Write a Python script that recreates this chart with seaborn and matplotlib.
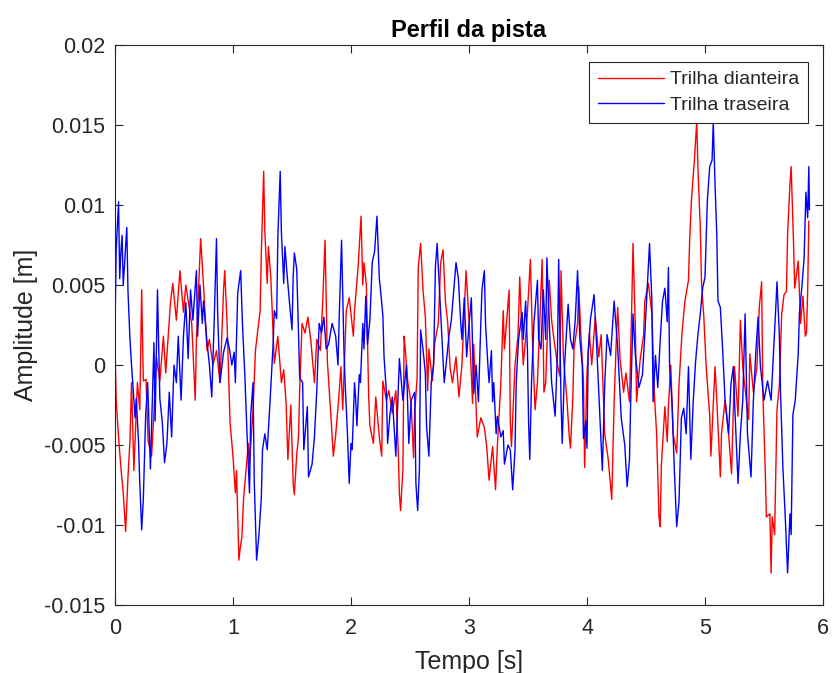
import matplotlib
matplotlib.use("Agg")
import matplotlib.pyplot as plt
import seaborn as sns
import pandas as pd

# ---------------- data (amplitudes in mm) ----------------
t_front = [0.0, 0.01, 0.03, 0.05, 0.07, 0.09, 0.11, 0.127, 0.14, 0.16, 0.19, 0.21, 0.226, 0.24, 0.263, 0.28,
           0.31, 0.33, 0.35, 0.38, 0.41, 0.43, 0.47, 0.49, 0.52, 0.55, 0.58, 0.60, 0.65, 0.68, 0.69, 0.726,
           0.75, 0.78, 0.80, 0.83, 0.86, 0.89, 0.92, 0.93, 0.95, 0.975, 1.00, 1.02, 1.03, 1.05, 1.06, 1.075,
           1.09, 1.13, 1.14, 1.17, 1.19, 1.23, 1.24, 1.26, 1.27, 1.29, 1.30, 1.32, 1.33, 1.35, 1.38, 1.41,
           1.43, 1.45, 1.465, 1.49, 1.51, 1.52, 1.54, 1.555, 1.565, 1.585, 1.61, 1.635, 1.66, 1.69, 1.71, 1.74,
           1.76, 1.78, 1.80, 1.83, 1.85, 1.87, 1.90, 1.915, 1.93, 1.96, 1.985, 2.02, 2.03, 2.06, 2.085, 2.10,
           2.11, 2.13, 2.15, 2.16, 2.19, 2.21, 2.24, 2.26, 2.27, 2.30, 2.32, 2.35, 2.38, 2.40, 2.41, 2.42,
           2.44, 2.45, 2.46, 2.48, 2.51, 2.53, 2.54, 2.56, 2.57, 2.59, 2.61, 2.63, 2.65, 2.66, 2.69, 2.71,
           2.74, 2.76, 2.78, 2.80, 2.82, 2.84, 2.86, 2.89, 2.915, 2.94, 2.975, 3.00, 3.03, 3.04, 3.07, 3.10,
           3.13, 3.15, 3.17, 3.20, 3.225, 3.24, 3.27, 3.29, 3.30, 3.34, 3.35, 3.36, 3.39, 3.415, 3.43, 3.45,
           3.46, 3.49, 3.52, 3.54, 3.56, 3.58, 3.60, 3.62, 3.635, 3.65, 3.68, 3.70, 3.72, 3.75, 3.77, 3.78,
           3.80, 3.83, 3.85, 3.86, 3.88, 3.89, 3.92, 3.93, 3.95, 3.97, 3.98, 4.00, 4.02, 4.04, 4.07, 4.10,
           4.12, 4.15, 4.18, 4.21, 4.23, 4.25, 4.26, 4.28, 4.31, 4.33, 4.36, 4.38, 4.39, 4.41, 4.42, 4.45,
           4.48, 4.49, 4.52, 4.55, 4.57, 4.59, 4.61, 4.62, 4.63, 4.66, 4.68, 4.69, 4.71, 4.73, 4.76, 4.78,
           4.805, 4.83, 4.86, 4.87, 4.885, 4.91, 4.93, 4.94, 4.96, 4.97, 4.99, 5.01, 5.04, 5.05, 5.085, 5.10,
           5.13, 5.14, 5.17, 5.20, 5.225, 5.25, 5.28, 5.30, 5.32, 5.35, 5.37, 5.38, 5.41, 5.44, 5.46, 5.48,
           5.49, 5.51, 5.52, 5.55, 5.56, 5.57, 5.59, 5.61, 5.63, 5.65, 5.67, 5.69, 5.70, 5.72, 5.73, 5.75,
           5.76, 5.79, 5.81, 5.83, 5.85, 5.86, 5.87, 5.88]
y_front = [1.1, -2.2, -4.5, -6.4, -8.0, -10.4, -7.0, -4.7, -1.1, -6.6, -1.1, -2.8, 4.7, -1.0, -0.9, -4.7,
           -5.7, -3.0, 0.5, -1.0, 1.8, -0.5, 3.9, 5.1, 2.8, 5.9, 3.3, 5.0, 2.6, -2.2, 1.6, 7.9,
           5.0, 0.9, 1.6, 0.0, 0.9, -1.1, 4.7, 5.9, 2.6, -3.6, -5.7, -8.0, -6.6, -12.2, -11.5, -10.8,
           -8.3, -4.9, -6.2, -2.8, 0.9, 3.4, 7.0, 12.1, 8.3, 5.1, 7.4, 5.5, 3.8, 0.1, 1.8, -1.1,
           -0.3, -2.4, -5.9, -2.5, -7.4, -8.1, -5.6, -4.5, -1.6, 2.6, 2.0, 3.0, 1.5, -1.1, 1.6, 0.9,
           3.9, 7.8, 0.2, -3.2, -5.7, -4.4, -1.7, -0.1, -2.8, 3.4, 4.2, 1.8, 3.4, 6.1, 9.3, 5.0,
           6.4, 5.0, -2.0, -3.8, -4.9, -2.0, -4.5, -5.7, -1.0, -2.2, -1.6, -3.0, -1.6, -5.3, -8.0, -9.1,
           -6.5, 1.8, 1.0, -1.0, -2.4, -5.8, -3.0, -0.8, 6.1, 7.6, 4.7, 3.0, -1.6, 1.0, -1.0, 1.4,
           2.6, 6.4, 7.2, 4.0, 2.6, -0.2, -1.1, 0.5, -2.0, 0.0, 5.9, 2.8, -2.4, 1.3, -4.5, -3.3,
           -3.9, -5.1, -7.2, -5.1, -7.8, -5.1, -1.1, 3.4, 1.0, 4.7, -3.6, -5.1, 0.0, 1.8, 5.5, 1.6,
           0.0, 2.6, 6.6, 1.0, -2.8, -1.1, 2.8, 6.6, -1.7, -1.1, 5.3, 2.8, 1.6, 0.0, -0.7, 5.9,
           0.5, -2.2, -4.5, -5.2, -2.0, 1.0, 2.6, 4.9, 1.6, -1.0, -6.4, -0.5, 2.0, 0.0, 3.0, 0.5,
           1.9, -4.3, -5.9, -8.4, -2.3, 1.9, 3.6, 0.4, -1.7, -0.5, -2.3, 4.0, 7.6, 2.2, -2.3, 0.3,
           1.9, 4.0, 5.1, 3.2, -1.7, -4.3, -9.5, -10.1, -6.3, -2.6, -4.8, -2.6, 0.0, -4.3, -5.5, -1.2,
           2.0, 4.0, 5.3, 7.8, 10.3, 12.8, 15.2, 12.3, 8.6, 5.2, 3.0, -0.1, -3.2, -5.7, -0.1, -2.2,
           -7.0, -4.3, -2.2, -4.3, -6.8, -0.1, -3.2, 2.8, -0.1, -2.2, -3.4, 0.7, -1.7, -0.1, 3.6, 5.2,
           -1.7, -6.4, -9.5, -9.3, -13.0, -9.5, -10.6, -2.8, -1.3, 3.2, 4.4, 4.6, 8.2, 11.3, 12.4, 7.7,
           4.8, 6.5, 2.6, 4.3, 1.8, 2.0, 4.6, 9.0]

t_rear = [0.0, 0.01, 0.03, 0.04, 0.05, 0.06, 0.07, 0.10, 0.11, 0.127, 0.14, 0.155, 0.17, 0.18, 0.20, 0.21,
          0.226, 0.24, 0.26, 0.277, 0.30, 0.32, 0.33, 0.34, 0.36, 0.38, 0.40, 0.42, 0.44, 0.46, 0.48, 0.50,
          0.52, 0.536, 0.56, 0.58, 0.60, 0.62, 0.64, 0.66, 0.69, 0.70, 0.72, 0.74, 0.75, 0.78, 0.80, 0.82,
          0.84, 0.86, 0.87, 0.89, 0.92, 0.95, 0.97, 0.99, 1.01, 1.02, 1.04, 1.065, 1.08, 1.10, 1.12, 1.14,
          1.15, 1.17, 1.18, 1.20, 1.22, 1.24, 1.25, 1.27, 1.29, 1.31, 1.34, 1.35, 1.37, 1.38, 1.40, 1.41,
          1.43, 1.44, 1.46, 1.48, 1.50, 1.51, 1.52, 1.54, 1.55, 1.565, 1.59, 1.60, 1.63, 1.64, 1.67, 1.69,
          1.71, 1.73, 1.75, 1.77, 1.79, 1.81, 1.84, 1.87, 1.89, 1.90, 1.92, 1.94, 1.95, 1.97, 1.985, 2.00,
          2.01, 2.03, 2.04, 2.05, 2.07, 2.08, 2.10, 2.11, 2.125, 2.14, 2.16, 2.18, 2.20, 2.22, 2.24, 2.25,
          2.27, 2.28, 2.30, 2.31, 2.33, 2.35, 2.38, 2.41, 2.44, 2.47, 2.49, 2.51, 2.54, 2.55, 2.565, 2.58,
          2.59, 2.61, 2.63, 2.64, 2.66, 2.68, 2.70, 2.715, 2.73, 2.75, 2.77, 2.79, 2.80, 2.83, 2.85, 2.875,
          2.89, 2.91, 2.93, 2.94, 2.96, 2.98, 3.00, 3.02, 3.04, 3.06, 3.08, 3.10, 3.11, 3.13, 3.14, 3.16,
          3.17, 3.19, 3.20, 3.21, 3.23, 3.24, 3.27, 3.29, 3.30, 3.33, 3.35, 3.36, 3.37, 3.39, 3.40, 3.42,
          3.45, 3.46, 3.48, 3.495, 3.505, 3.515, 3.53, 3.55, 3.58, 3.59, 3.61, 3.63, 3.65, 3.66, 3.68, 3.70,
          3.73, 3.75, 3.76, 3.78, 3.79, 3.81, 3.84, 3.86, 3.88, 3.90, 3.92, 3.94, 3.96, 3.97, 3.99, 4.00,
          4.01, 4.03, 4.06, 4.08, 4.11, 4.13, 4.15, 4.17, 4.20, 4.23, 4.26, 4.29, 4.32, 4.34, 4.36, 4.37,
          4.39, 4.41, 4.44, 4.47, 4.49, 4.52, 4.53, 4.55, 4.56, 4.58, 4.60, 4.62, 4.64, 4.66, 4.68, 4.69,
          4.70, 4.72, 4.74, 4.76, 4.78, 4.80, 4.82, 4.84, 4.86, 4.88, 4.90, 4.92, 4.94, 4.96, 4.98, 5.00,
          5.02, 5.04, 5.06, 5.07, 5.085, 5.10, 5.11, 5.13, 5.15, 5.17, 5.20, 5.22, 5.24, 5.25, 5.28, 5.30,
          5.32, 5.34, 5.36, 5.39, 5.41, 5.43, 5.45, 5.47, 5.50, 5.53, 5.56, 5.58, 5.60, 5.61, 5.63, 5.64,
          5.66, 5.68, 5.70, 5.72, 5.73, 5.745, 5.765, 5.79, 5.80, 5.82, 5.84, 5.855, 5.87, 5.88, 5.885]
y_rear = [2.2, 7.2, 10.2, 5.4, 7.1, 8.1, 5.0, 8.6, 4.6, 1.6, 0.0, -1.7, -3.3, -2.1, -4.9, -7.4,
          -10.3, -8.4, -3.1, -1.1, -6.5, -1.1, 1.4, -3.5, 4.7, -2.1, -3.5, -6.1, -4.9, -1.7, -4.5, 0.0,
          -1.1, 1.8, -2.2, 1.8, 3.9, 0.4, 4.7, 2.8, 5.9, 1.8, 5.0, 2.6, 4.0, 1.4, 0.0, -2.0,
          2.6, 7.9, 3.2, -1.1, 0.8, 1.7, 1.0, 0.0, 0.8, -1.1, 4.5, 5.9, 2.6, -0.6, -4.5, -8.0,
          -3.1, -1.1, -7.2, -12.2, -10.6, -8.3, -5.3, -4.3, -5.3, -2.8, 1.3, 3.4, 2.9, 8.0, 12.1, 8.3,
          5.1, 7.4, 5.5, 3.8, 2.2, 5.5, 7.0, 6.0, 3.4, -0.8, -1.1, -5.3, -2.6, -7.0, -6.2, -4.5,
          -1.6, 2.6, 2.0, 3.0, 1.0, 1.3, 2.6, 1.8, 0.0, 3.0, 7.8, 1.0, -1.1, -4.3, -7.4, -4.9,
          -5.3, -1.1, -2.2, -3.8, -0.6, -1.1, 2.6, 1.0, 4.3, 1.3, 2.8, 6.4, 7.1, 9.3, 5.4, 4.7,
          3.1, 0.5, -1.7, -4.9, -3.1, -2.0, -5.7, 0.4, -2.2, 0.0, -4.9, -2.2, -1.7, -7.4, -9.1, -6.5,
          2.2, 1.0, -0.5, -3.8, -5.7, -1.1, 0.0, 6.1, 7.6, 4.7, 1.8, -1.1, -0.4, 1.8, 2.8, 5.1,
          6.4, 5.4, 2.6, 1.6, 4.2, 0.5, 2.5, 4.2, -1.8, 0.0, -2.3, 2.6, 4.7, 5.9, 2.6, 0.0,
          -1.1, 0.9, -2.3, -1.1, -4.3, -3.2, -4.5, -4.1, -6.2, -5.0, -5.3, -6.5, -7.8, -5.3, -1.1, 1.6,
          3.3, 1.6, 4.0, 1.0, -3.6, -5.9, -1.1, 2.6, 5.3, 1.6, 1.0, 4.7, 1.6, 6.7, 2.8, -1.1,
          -3.2, 0.9, 6.6, -2.3, -4.9, 0.0, 3.8, 1.6, 1.0, 2.8, 5.9, 1.6, 0.0, -4.6, -3.5, -5.2,
          0.8, 2.9, 4.4, 1.5, -3.3, -6.6, -1.2, 1.9, 0.6, 4.0, 1.1, -3.3, -5.0, -7.6, -5.9, -2.3,
          3.2, 0.6, -1.4, -0.6, 1.9, 6.1, 7.6, 4.0, -2.3, 0.6, -1.4, 1.5, 4.0, 4.8, 2.7, 6.1,
          -0.1, -2.3, -6.5, -10.1, -8.5, -3.3, -2.7, -4.3, -0.1, -5.9, -2.3, 0.2, 1.9, 3.2, 4.8, 5.5,
          10.3, 12.4, 12.8, 15.2, 11.3, 8.1, 4.0, 3.6, 0.9, -2.2, -4.3, -1.2, -0.1, -2.2, -7.4, -4.3,
          -2.2, 3.2, -4.3, -7.0, -2.2, 0.7, 3.0, -0.1, -2.2, -1.0, -2.2, 0.7, 3.6, 5.2, 1.9, -1.7,
          -6.4, -9.5, -13.0, -9.3, -10.6, -3.1, -2.2, 0.7, 3.2, 4.8, 6.7, 10.8, 9.2, 12.4, 9.7]

series_names = ["Trilha dianteira", "Trilha traseira"]
series_colors = ["#ff0000", "#0000ff"]
x_ticks = [0, 1, 2, 3, 4, 5, 6]
y_ticks = [-0.015, -0.01, -0.005, 0, 0.005, 0.01, 0.015, 0.02]
y_tick_labels = ["-0.015", "-0.01", "-0.005", "0", "0.005", "0.01", "0.015", "0.02"]

# ---------------- build long table ----------------
df = pd.concat([
    pd.DataFrame({"t": t_front, "amp": [v / 1000.0 for v in y_front], "serie": series_names[0]}),
    pd.DataFrame({"t": t_rear, "amp": [v / 1000.0 for v in y_rear], "serie": series_names[1]}),
], ignore_index=True)

sns.set_theme(style="white")
plt.rcParams["font.family"] = ["Liberation Sans", "DejaVu Sans"]

fig = plt.figure(figsize=(8.32, 6.73), dpi=100)
ax = fig.add_axes([115 / 832, 1 - 605 / 673, 708 / 832, 560 / 673])

sns.lineplot(data=df, x="t", y="amp", hue="serie", palette=series_colors,
             hue_order=series_names, estimator=None, sort=False, linewidth=1.0, ax=ax)

ax.set_xlim(0, 6)
ax.set_ylim(-0.015, 0.02)
ax.set_xticks(x_ticks)
ax.set_xticklabels([str(v) for v in x_ticks])
ax.set_yticks(y_ticks)
ax.set_yticklabels(y_tick_labels)

for s in ax.spines.values():
    s.set_visible(True)
    s.set_color("#262626")
    s.set_linewidth(0.8)

ax.tick_params(axis="both", which="major", direction="in", length=6, width=0.8,
               color="#262626", labelcolor="#262626", labelsize=15.5,
               top=True, right=True, bottom=True, left=True)
ax.tick_params(axis="x", pad=9)
ax.tick_params(axis="y", pad=7)

ax.set_title("Perfil da pista", fontsize=17, fontweight="bold", color="black", pad=6)
ax.set_xlabel("Tempo [s]", fontsize=18, color="#262626", labelpad=8)
ax.set_ylabel("Amplitude [m]", fontsize=18, color="#262626", labelpad=4)

leg = ax.legend(loc="upper right", bbox_to_anchor=(808 / 832, 1 - 62 / 673),
                bbox_transform=fig.transFigure, borderaxespad=0, fontsize=14,
                frameon=True, fancybox=False, edgecolor="#262626", framealpha=1,
                handlelength=3.4, handletextpad=0.3, labelspacing=0.4, borderpad=0.45)
leg.get_frame().set_linewidth(0.8)
for line in leg.get_lines():
    line.set_linewidth(1.0)

fig.savefig("out.png", dpi=100)
